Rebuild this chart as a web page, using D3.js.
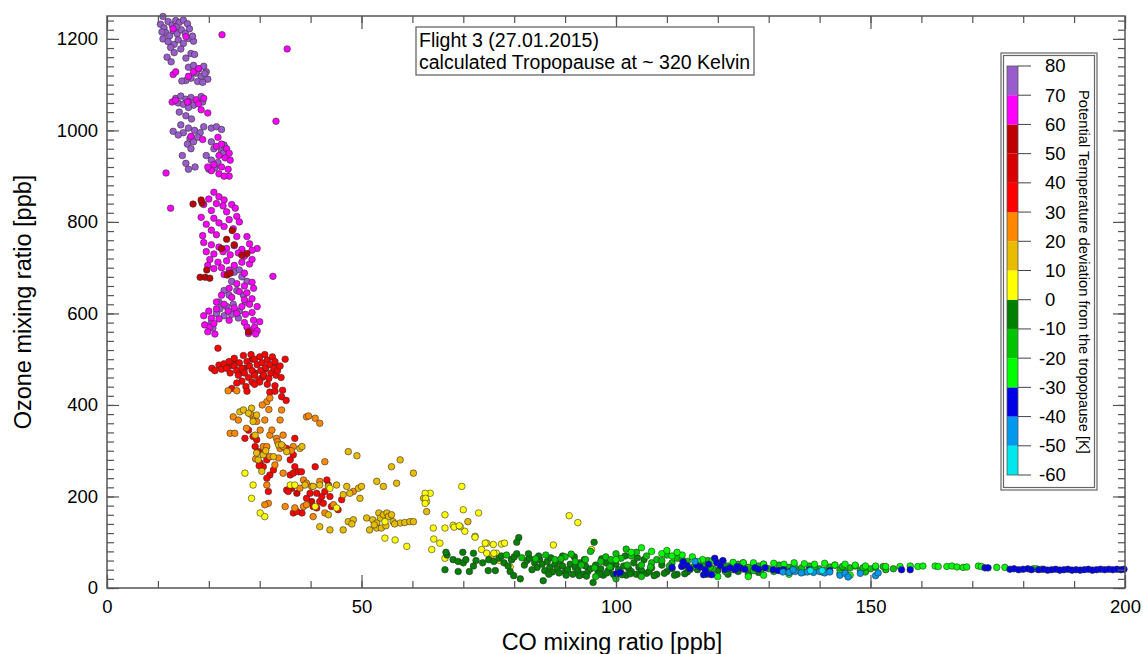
<!DOCTYPE html>
<html>
<head>
<meta charset="utf-8">
<script src="https://cdn.jsdelivr.net/npm/d3@7"></script>
<style>
  body { margin: 0; background: #fff; }
  text { font-family: Arial, "Liberation Sans", sans-serif; }
</style>
</head>
<body>
<div id="chart"></div>
<script>
// colour bins of the potential temperature deviation [K]
var devBreaks = [-50, -40, -30, -20, -10, 0, 10, 20, 30, 40, 50, 60, 70];
var devColors = ["#00e8ee", "#0099ee", "#0000e6", "#00ff00", "#00c400", "#008000", "#ffff00",
                 "#e8bc00", "#ff8800", "#ff0000", "#d80000", "#bf0000", "#ff00ff", "#9a5ccc"];
var legendTicks = [80, 70, 60, 50, 40, 30, 20, 10, 0, -10, -20, -30, -40, -50, -60];

// [CO ppb, O3 ppb] per deviation bin (bin mid value in devMid)
var purple = [[11,1249],[10.5,1232],[11.2,1224],[12,1238],[12.8,1230],[13.5,1240],[14.2,1236],[15,1241],[15.8,1233],[11.5,1214],[12.3,1207],[13,1218],[13.8,1211],[14.6,1220],[15.4,1212],[16.2,1222],[11,1200],[12,1194],[13.2,1188],[14,1198],[15,1190],[16,1201],[17,1195],[12.5,1181],[14.5,1178],[16.5,1168],[11.8,1160],[12.6,1150],[13.2,1170],[15.5,1158],[17.2,1166],[16.8,1206],[10.8,1215],[13.6,1226],
  [16,1138],[17,1142],[18,1134],[19,1140],[19.5,1128],[17.5,1125],[18.5,1118],[16.5,1114],[19.8,1112],[15.5,1109],[17.8,1107],[18.8,1105],[14.7,1108],[19.2,1124],
  [13.5,1070],[14.5,1075],[15.5,1068],[16.5,1072],[17.5,1064],[18.5,1074],[14,1060],[15,1057],[17,1055],[18.8,1062],[16,1050],
  [14.2,1040],[15.5,1032],[16.6,1025],[14.5,1012],[16,1005],[17.2,1000],[18.3,995],[15,995],[13,998],[17.8,985],[16.3,982],[19,1008],[20.5,1005],[21.5,1008],[22.5,1002],[14,990],[15.8,970],[17,975],[16.5,960],[14.8,945],[15.5,928],[16,915],[17.3,920],[19.5,945],[20.5,975],
  [21,960],[22.5,955],[20.5,935],[21.8,930],[22.8,950],[20,915],[21.2,918],[23,968],
  [25,690],[26,695],[24.5,670],[26.5,680],[27.5,670],[23,650],[24,640],[25.5,650],[26.8,640],[22,625],[23.5,615],[24.8,620],[26,605],[27.2,625],[21.5,600],[23,595],[24.5,598],[25.8,590],[20.5,580],[22.2,610],[20.8,568]];

var magenta = [[22.6,1209],[35.4,1178],[33.2,1020],[11.6,907],[12.5,830],[32.6,681],[15.5,1205],[13,1222],[13,1122],[13.5,1128],[17,1128],[16,1118],[18,1135],[12.8,1062],[13.5,1066],[16,1063],[17.5,1067],[19,1070],[18,1058],[15.8,1062],[18.5,1045],[19.8,1038],[16.5,987],[18.8,980],
  [21.5,965],[22.5,970],[23.5,960],[24,950],[22,945],[23.2,940],[24.2,935],[21,925],[22.5,920],[23.8,915],[20.5,912],[22,905],[24,900],[23,900],[19.8,920],[21.8,985],
  [21,865],[22,855],[20,850],[23,848],[21.5,840],[19,838],[24.5,838],[25.2,830],[22.8,835],[20.5,825],[23.5,822],[25.5,812],[18.5,810],[21,808],[24,805],[19.5,795],[22,798],[26,800],[20.5,782],[23,790],[24.8,785],[18.8,770],[21.5,772],[25.5,768],[27.5,768],
  [19,755],[20.5,750],[22,745],[23.5,742],[25,748],[26.5,740],[28,752],[29.5,742],[19.5,735],[21,730],[22.8,735],[24.2,728],[25.8,732],[27,725],[28.5,738],[20.2,718],[21.8,712],[23.5,715],[25,705],[26.5,712],[28,708],[22.5,700],[24,695],[27,688],[19.8,705],[21,698],[28.5,718],[23,685],
  [25.5,665],[27,660],[28.5,668],[24,655],[26,648],[27.5,645],[28.8,655],[22.5,640],[24.5,635],[27,630],[28.5,632],[21.5,625],[23,620],[25,612],[26.5,615],[28,620],[29.5,615],[20,605],[21.5,610],[23.8,605],[25.5,600],[27.2,598],[28.5,602],[19,595],[20.5,590],[22,588],[24,585],[27,580],[28.8,585],[19.2,575],[20.2,570],[21,578],[19.8,560],[21.2,555],[27.5,570],[28.2,562],[29,570],[29.5,562],[27.8,556],[29.2,555],[30,582]];

var darkRed = [[16.9,839],[18.7,841],[24.6,781],[26.5,727],[27.5,731],[19.6,695],[18.3,679],[19.3,679],[20.2,677],[23.6,684],[24.2,688],[18.5,848],[23.5,762],[27.8,560],[22.5,742],[25,750]];

var red2 = [[25,495],[27,480],[29,470],[26,470],[24,485],[28.5,500],[31,478],[33,490],[30.5,460],[36.3,218],[40.2,189],[37.3,207]];

var red = [[21.8,524],[20.6,480],[21.2,475],[22,487],[22.5,478],[23,490],[23.5,480],[24,495],[24.2,470],[25,502],[25,485],[25.5,475],[25.8,465],[26,492],[26.5,480],[26.8,508],[27,470],[27.5,495],[27.8,460],[28,485],[28.3,510],[28.5,475],[29,500],[29,465],[29.5,488],[29.8,455],[30,505],[30.2,475],[30.5,492],[30.8,465],[31,510],[31.2,482],[31.5,498],[31.8,458],[32,488],[32.2,470],[32.5,505],[32.8,480],[33,495],[33.2,465],[33.5,475],[34,485],[34.2,460],[30,450],[28.5,450],[26.5,452],[25.5,448],[27.3,440],[29,445],[31.5,445],[33,442],[35,500],[32,428],[33,430],[34.5,432],[34.3,418],[35.2,410],[24.5,436],[27.5,430],
  [27.1,327],[27.8,345],[28.7,331],[29.4,324],[29.1,309],[29.7,298],[30.7,295],[31.4,280],[30.1,273],[30.7,265],[32.0,247],[32.7,258],[31.7,211],[35.3,305],[36.0,280],[36.6,291],[36.9,265],[36.0,247],[36.6,251],[37.6,254],[38.2,254],[35.3,214],[35.6,211],[36.6,164],[38.3,164],[39.2,196],[39.9,207],[40.5,178],[41.2,175],[41.8,189],[42.2,200],[42.5,185],[42.8,211],[43.2,236],[43.5,225],[43.8,200],[44.1,178],[45.4,171],[46.1,193],[40.9,265],[36.9,327],[37.3,167],[29.9,267],[31.4,240],[41.2,207]];

var orange = [[23.8,431],[25.5,431],[24.2,338],[25.1,338],[24.8,374],[25.8,367],[27.4,349],[28.7,374],[29.4,364],[31.0,367],[30.1,345],[30.7,309],[31.4,309],[32.0,334],[32.4,345],[33.3,327],[34.6,334],[34.0,367],[34.3,389],[31.4,407],[32.0,415],[33.0,269],[32.0,287],[34.0,305],[34.6,309],[31.4,225],[31.7,185],[31.0,182],[35.0,178],[36.9,175],[38.6,178],[39.2,182],[40.5,156],[38.6,236],[37.9,218],[39.2,229],[40.2,222],[41.8,233],[42.8,164],[44.5,182],[42.8,276],[40.9,371],[41.8,360],[39.2,374],[39.6,376],[33.7,284],[34.6,251],[36.6,309],[48.4,211],[30.5,400],[31.8,390],[29.2,282],[33.5,320],[36.2,300],[28.2,380]];

var gold = [[26.1,385],[26.8,389],[28.4,393],[27.8,382],[29.4,378],[28.7,364],[29.1,334],[29.4,295],[29.7,280],[30.7,291],[32.7,287],[33.7,313],[34.3,313],[35.3,298],[37.9,305],[38.3,309],[38.9,225],[40.5,222],[41.8,225],[43.5,222],[45.1,225],[47.1,222],[49.4,218],[50.0,222],[47.7,207],[46.4,204],[47.4,145],[48.4,149],[46.4,127],[43.8,127],[41.8,134],[43.5,160],[49.7,196],[53.0,233],[54.3,222],[55.9,265],[56.9,229],[57.6,280],[60.2,251],[49.1,289],[47.4,298],
  [51.0,153],[52.2,149],[53.0,142],[53.4,164],[53.7,153],[54.3,160],[55.0,164],[55.3,156],[55.9,160],[56.2,145],[51.6,127],[53.0,131],[53.9,131],[57.6,142],[58.5,143],[59.5,145],[60.2,145],[48.1,140],[52.5,138],[54.8,136],[56.5,140],[62.8,167],[70.9,145],[62.2,196],[31.2,300],[30.4,255],[75.5,70],[79.5,62]];

var yellow = [[27.1,251],[28.7,225],[28.4,196],[30.1,164],[31.0,156],[36.0,225],[36.9,225],[40.9,178],[43.8,218],[45.1,175],[54.6,145],[54.6,109],[56.6,105],[58.9,91],[63.5,207],[62.8,189],[64.1,131],[63.8,84],[65.4,98],[66.4,160],[66.4,131],[69.7,222],[70.0,171],[70.3,124],[69.4,134],[73.0,164],[72.3,113],[73.6,84],[74.6,98],[75.9,95],[66.4,65],[76.5,76],
  [68,137],[68.2,133],[69.2,136],[64.2,107],[72.3,111],[74.3,98],[77.5,96],[78.1,98],[74.6,76],[76,76],[77.2,60],[79.2,46],[90.8,158],[92.5,143],[87.7,94],[95.2,84],[62.5,207],[62.6,196],[62.5,185]];

var darkGreen = [[66.4,40],[66.8,72],[68,62],[69,58],[70,55],[70.5,62],[69,36],[71.2,36],[72,48],[72.5,60],[73.8,55],[74.9,38],[76.3,38],[75,62],[76,58],[77,65],[77.5,70],[78,55],[78.8,48],[79.5,62],[80,68],[80.5,75],[80.9,110],[80.5,100],[79.2,36],[79.9,27],[81.2,20],[66.6,78],[69.9,78],[72,76],
  [82,50],[82.5,60],[83,65],[84,55],[84.5,45],[85,62],[85.5,52],[86,38],[86.5,58],[87,45],[87.5,35],[88,52],[88.5,42],[89,58],[89.5,48],[90,35],[90.5,40],[91,52],[91.5,30],[92,45],[92.5,38],[93,55],[93.5,30],[94,48],[94.5,36],[95,42],[85.7,16],[95.5,12],[95.7,100],[83.5,40],[86.8,30],[88.8,33],[90.2,28],[92.8,27],[94.2,26],
  [96,50],[96.5,35],[97,42],[97.5,28],[98,55],[98.5,38],[99,45],[99.5,30],[100,52],[100.5,40],[101,33],[101.5,48],[102,28],[102.5,42],[103,36],[103.5,55],[104,30],[104.5,45],[105,38],[105.5,62],[106,32],[107,44],[108,30],[109,50],[110,36],[111,42],[112,30],[113,48],[114,35],[116,40],[118,32],[120,38],[122,30],[124,36],[126,30],[128,34],
  [96.8,30],[98.2,33],[99.8,27],[101.2,29],[102.8,31],[104.8,28],[106.5,36],[107.5,27],[109.5,32],[111.5,28],[113.5,31],[97.2,64],[99.3,58],[101.8,70],[104.2,66],[93.8,62],[91.8,68],[89.5,70],[87.2,66],[84.8,70],[82.8,75]];

var green = [[95,80],[98,68],[100,75],[102,85],[104,78],[106,70],[108,62],[110,72],[112,65],[114,58],[116,52],[118,60],[120,55],[122,48],[124,52],[126,45],[128,48],[130,42],[132,50],[134,45],[136,40],[138,48],[140,42],[142,46],[144,40],[146,44],[148,38],[150,42],[88,62],[90,68],[92,58],[94,62],[97,58],[99,62],[101,65],[103,70],[105,50],[107,55],[109,60],[111,55],[113,62],[115,45],[117,48],[119,42],[121,50],[123,40],[125,55],[127,38],[129,52],[131,36],[133,40],[135,48],[137,35],[139,45],[141,38],[143,50],[145,36],[147,48],[149,35],[151,45],[153,40],[96,25],[100,20],[105,25],
  [78.5,72],[81.5,66],[84.2,64],[86.2,72],[89.2,64],[91.2,74],[93.2,50],[95.8,44],[98.8,46],[102.2,50],[106.8,46],[110.5,48],[114.5,40],[118.5,45],[121.5,36],[124.8,42],[128.5,40],[132.5,38],[136.5,44],[140.5,35],[144.5,47],[148.5,44],[152.5,47],[154.5,42]];

var lime = [[100,62],[103,78],[105,88],[107,80],[109,75],[111,70],[113,72],[115,68],[117,62],[119,60],[121,58],[123,56],[125,55],[127,55],[129,52],[131,54],[133,52],[135,55],[137,53],[139,52],[141,54],[143,50],[145,52],[147,50],[149,48],[151,48],[153,47],[155.8,47],[157.8,48],[159.3,47],[160.3,48],[162.7,48],[163.3,47],[165,47],[166,48],[167,46],[168.2,45],[168.9,46],[171.2,48],[171.8,47],[174.8,45],[176.4,45],[182,42],[182.6,42],[183.6,41],[129,28],[134,30],[120,25],[118,30],[126,25],[144,32],[146,28],[110,82],[112,78],[116,58]];

var blue = [[112.9,47],[113.9,49],[116.5,46],[117.2,29],[119.4,65],[119.8,55],[120.5,49],[121.4,40],[122.4,44],[123.4,40],[124.4,44],[125.3,41],[127.3,44],[128,41],[129.3,44],[130.9,40],[131.9,38],[132.9,40],[134.2,36],[100.1,31],[100.8,34],[117.8,31],[118.8,29],[111,45],[114.5,42],[115.8,50],[117.5,40],[156.1,40],[157.8,40],[172.5,44],[173.1,44],
  [177.4,41],[178.2,42],[179.1,40],[180,41],[180.9,42],[181.6,40],[183,40],[184,41],[184.8,39],[185.6,40],[186.4,41],[187.2,39],[188,40],[188.8,41],[189.6,39],[190.4,40],[191.2,39],[192,40],[192.8,41],[193.6,39],[194.4,40],[195.2,41],[196,40],[196.8,41],[197.6,40],[198.4,41],[199.2,40],[199.8,41],[138,40],[142,38],[113.2,57],[118.2,52],[121,60],[123.8,47]];

var lightBlue = [[132.8,35],[134,34],[135.2,36],[136.4,33],[137.6,35],[138.8,34],[140,36],[141,33],[142,35],[144,28],[145,32],[145.6,24],[148,32],[151,27],[151.5,33],[115.5,58],[134.8,40]];

var cyan = [[140.5,38],[138.2,38]];

var groups = [purple, magenta, darkRed, red2, red, orange, gold, yellow, darkGreen, green, lime, blue, lightBlue, cyan];
var devMid = [75, 65, 55, 45, 35, 25, 15, 5, -5, -15, -25, -35, -45, -55];

var xTicks = [0, 50, 100, 150, 200];
var yTicks = [0, 200, 400, 600, 800, 1000, 1200];

var W = 1143, H = 654;
var margin = {top: 16, right: 18, bottom: 66, left: 107};
var width = W - margin.left - margin.right,
    height = H - margin.top - margin.bottom;

var svg = d3.select("#chart").append("svg")
            .attr("width", W)
            .attr("height", H);

var g = svg.append("g")
           .attr("transform", "translate(" + margin.left + "," + margin.top + ")");

var x = d3.scaleLinear().domain([0, 200]).range([0, width]);
var y = d3.scaleLinear().domain([0, 1250]).range([height, 0]);
var color = d3.scaleThreshold().domain(devBreaks).range(devColors);

var axisColor = "#555";

// points
var points = [];
groups.forEach(function(grp, i) {
  grp.forEach(function(p) { points.push({co: p[0], o3: p[1], dev: devMid[i]}); });
});

g.append("g")
  .attr("class", "points")
  .selectAll("circle")
  .data(points)
  .enter().append("circle")
    .attr("cx", function(d) { return x(d.co); })
    .attr("cy", function(d) { return y(d.o3); })
    .attr("r", 3.3)
    .style("fill", function(d) { return color(d.dev); })
    .style("stroke", "#333")
    .style("stroke-width", 0.6);

// axes, ticks pointing inside
function styleAxis(sel) {
  sel.select(".domain").remove();
  sel.selectAll("line").attr("stroke", axisColor).attr("stroke-width", 1.2);
  sel.selectAll("text").style("font-size", "18.5px").attr("fill", "#000");
}

var xMinor = d3.range(0, 201, 10);
var yMinor = d3.range(0, 1250, 20);

g.append("g").attr("transform", "translate(0," + height + ")")
  .call(d3.axisBottom(x).tickValues(xMinor).tickSize(-7).tickFormat(""))
  .call(styleAxis);
g.append("g").attr("transform", "translate(0," + height + ")")
  .call(d3.axisBottom(x).tickValues(xTicks).tickSize(-13).tickPadding(12).tickFormat(d3.format("d")))
  .call(styleAxis);
g.append("g")
  .call(d3.axisTop(x).tickValues(xMinor).tickSize(-7).tickFormat(""))
  .call(styleAxis);
g.append("g")
  .call(d3.axisTop(x).tickValues(xTicks).tickSize(-13).tickFormat(""))
  .call(styleAxis);

g.append("g")
  .call(d3.axisLeft(y).tickValues(yMinor).tickSize(-7).tickFormat(""))
  .call(styleAxis);
g.append("g")
  .call(d3.axisLeft(y).tickValues(yTicks).tickSize(-12).tickPadding(9).tickFormat(d3.format("d")))
  .call(styleAxis);
g.append("g").attr("transform", "translate(" + width + ",0)")
  .call(d3.axisRight(y).tickValues(yMinor).tickSize(-7).tickFormat(""))
  .call(styleAxis);
g.append("g").attr("transform", "translate(" + width + ",0)")
  .call(d3.axisRight(y).tickValues(yTicks).tickSize(-12).tickFormat(""))
  .call(styleAxis);

// frame
g.append("rect")
  .attr("width", width)
  .attr("height", height)
  .style("fill", "none")
  .style("stroke", axisColor)
  .style("stroke-width", 1.5);

// axis titles
svg.append("text")
  .attr("x", 612)
  .attr("y", 650)
  .attr("text-anchor", "middle")
  .style("font-size", "23.5px")
  .text("CO mixing ratio [ppb]");

svg.append("text")
  .attr("transform", "translate(31," + (margin.top + height / 2) + ") rotate(-90)")
  .attr("text-anchor", "middle")
  .style("font-size", "23.5px")
  .text("Ozone mixing ratio [ppb]");

// info box
var info = svg.append("g").attr("transform", "translate(416,27)");
info.append("rect")
  .attr("width", 338).attr("height", 48)
  .style("fill", "#fff").style("stroke", "#666").style("stroke-width", 1.3);
info.append("text").attr("x", 3).attr("y", 20).style("font-size", "19.5px")
  .text("Flight 3 (27.01.2015)");
info.append("text").attr("x", 3).attr("y", 42).style("font-size", "19.5px")
  .text("calculated Tropopause at ~ 320 Kelvin");

// colour legend
var leg = svg.append("g");
leg.append("rect")
  .attr("x", 1001).attr("y", 53).attr("width", 96).attr("height", 437)
  .style("fill", "#fff").style("stroke", "#666").style("stroke-width", 1.2);
leg.append("rect")
  .attr("x", 1003.5).attr("y", 55.5).attr("width", 91).attr("height", 432)
  .style("fill", "none").style("stroke", "#666").style("stroke-width", 1.2);

var ly = d3.scaleLinear().domain([-60, 80]).range([475, 66]);
var binLo = d3.range(-60, 80, 10);

leg.selectAll("rect.bin")
  .data(binLo)
  .enter().append("rect")
    .attr("class", "bin")
    .attr("x", 1007)
    .attr("y", function(d) { return ly(d + 10); })
    .attr("width", 11)
    .attr("height", function(d) { return ly(d) - ly(d + 10); })
    .style("fill", function(d) { return color(d + 5); });

leg.append("rect")
  .attr("x", 1007).attr("y", ly(80)).attr("width", 11).attr("height", ly(-60) - ly(80))
  .style("fill", "none").style("stroke", "#555").style("stroke-width", 0.8);

leg.selectAll("line.tk")
  .data(legendTicks)
  .enter().append("line")
    .attr("class", "tk")
    .attr("x1", 1018).attr("x2", 1031)
    .attr("y1", function(d) { return ly(d); })
    .attr("y2", function(d) { return ly(d); })
    .style("stroke", "#444").style("stroke-width", 1);

leg.selectAll("text.tl")
  .data(legendTicks)
  .enter().append("text")
    .attr("class", "tl")
    .attr("x", function(d) { return d < 0 ? 1039 : 1045; })
    .attr("y", function(d) { return ly(d); })
    .attr("dy", "0.35em")
    .style("font-size", "18.5px")
    .text(function(d) { return d; });

leg.append("text")
  .attr("transform", "translate(1079,90) rotate(90)")
  .style("font-size", "14.7px")
  .text("Potential Temperature deviation from the tropopause [K]");
</script>
</body>
</html>
